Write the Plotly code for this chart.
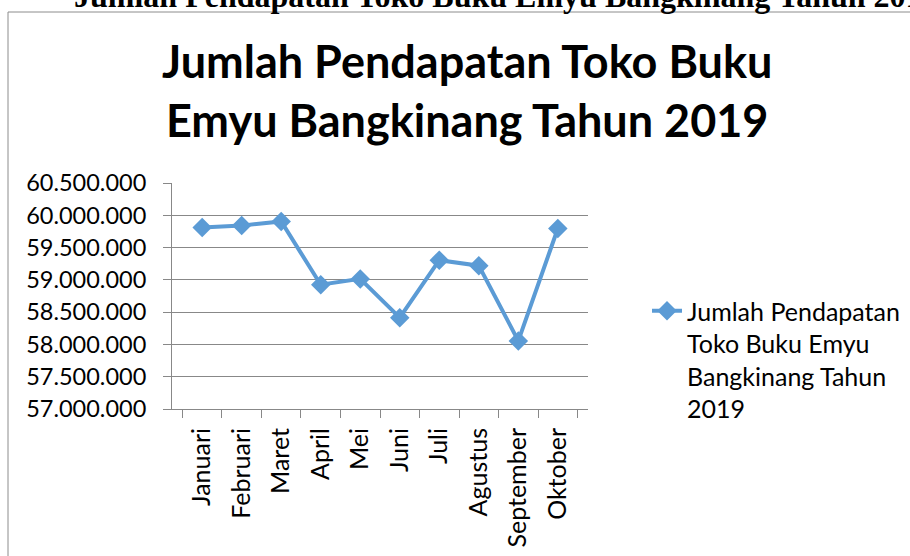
import plotly.graph_objects as go

months = ["Januari", "Februari", "Maret", "April", "Mei", "Juni", "Juli",
          "Agustus", "September", "Oktober"]
pendapatan = [59810000, 59840000, 59905000, 58925000, 59015000, 58415000,
              59305000, 59220000, 58055000, 59795000]
series_name = "Jumlah Pendapatan<br>Toko Buku Emyu<br>Bangkinang Tahun<br>2019"
chart_title = "Jumlah Pendapatan Toko Buku<br>Emyu Bangkinang Tahun 2019"
doc_text = "Jumlah Pendapatan Toko Buku Emyu Bangkinang Tahun 2019"

W, H = 910, 556
L, R, T, B = 172, 322, 183, 147
pw, ph = W - L - R, H - T - B


def px(x):
    return (x - L) / pw


def py(y):
    return (H - B - y) / ph


blue = "#5B9BD5"
grid = "#888888"
font = "Lato"

fig = go.Figure()
fig.add_trace(go.Scatter(
    x=months, y=pendapatan, name=series_name, mode="lines+markers",
    line=dict(color=blue, width=4),
    marker=dict(symbol="diamond", size=15, color=blue),
    showlegend=True, cliponaxis=False,
))

fig.update_layout(
    width=W, height=H,
    margin=dict(l=L, r=R, t=T, b=B, autoexpand=False),
    paper_bgcolor="white", plot_bgcolor="white",
    separators=",.",
    font=dict(family=font, color="black"),
    xaxis=dict(type="category", tickson="boundaries", showgrid=False,
               showline=True, linecolor=grid, linewidth=1,
               ticks="outside", ticklen=8, tickcolor=grid,
               tickangle=-90, tickfont=dict(family=font, size=25),
               ticklabelstandoff=8, automargin=False),
    yaxis=dict(range=[57000000, 60500000], dtick=500000, tickformat=",d",
               showgrid=True, gridcolor=grid, gridwidth=1,
               showline=True, linecolor=grid, linewidth=1,
               ticks="outside", ticklen=8, tickcolor=grid,
               tickfont=dict(family=font, size=23.5), zeroline=False,
               ticklabelstandoff=12, automargin=False),
    legend=dict(x=px(647), xanchor="left", y=py(288), yanchor="top",
                valign="top", font=dict(family=font, size=25),
                bgcolor="rgba(0,0,0,0)"),
    shapes=[dict(type="rect", xref="paper", yref="paper",
                 x0=px(8), x1=px(920), y0=py(570), y1=py(12),
                 line=dict(color="#8c8c8c", width=1), layer="below")],
    annotations=[
        dict(text=doc_text, xref="paper", yref="paper",
             x=px(72), xanchor="left", y=py(-4), yanchor="middle",
             showarrow=False,
             font=dict(family="Liberation Serif", size=32,
                       color="black", weight="bold")),
        dict(text=chart_title, xref="paper", yref="paper",
             x=px(467), xanchor="center", y=py(32), yanchor="top",
             showarrow=False,
             font=dict(family=font, size=45, color="black", weight="bold")),
    ],
)

fig.write_html("out.html", config={"displayModeBar": False},
               post_script="document.body.style.margin='0';")
